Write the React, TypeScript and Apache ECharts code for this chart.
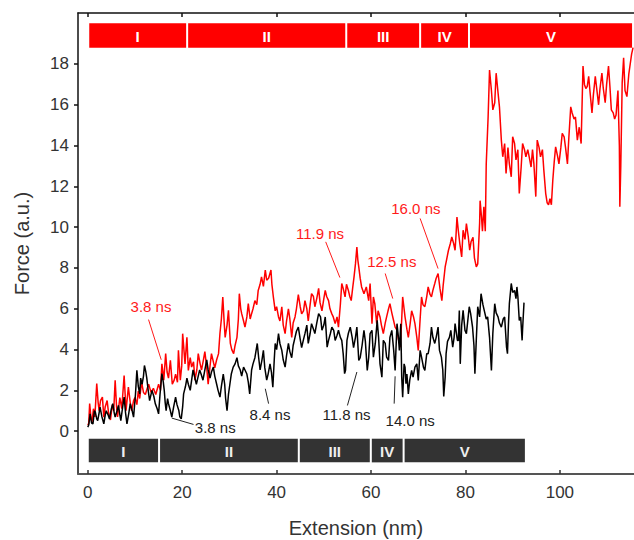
import React, { useEffect, useRef } from "react";
import * as echarts from "echarts";

const xTicks = [0, 20, 40, 60, 80, 100];
const yTicks = [0, 2, 4, 6, 8, 10, 12, 14, 16, 18];

const redTrace: [number, number][] = [
  [0.0,0.3],[0.2,0.38],[0.4,1.35],[0.7,0.6],[0.9,0.45],[1.2,1.1],[1.5,0.7],[1.9,2.33],[2.2,1.4],[2.4,1.0],[2.7,1.5],[3.1,1.67],[3.4,0.69],[3.7,1.2],[4.1,1.5],[4.4,0.9],[4.8,0.55],[5.2,1.3],[5.5,1.0],[5.8,2.49],[6.1,1.2],[6.3,0.7],[6.8,1.65],[7.2,1.1],[7.7,2.73],[8.1,1.0],[8.6,2.16],[9.0,1.4],[9.3,1.0],[9.7,1.5],[10.0,1.65],[10.4,1.3],[10.7,1.97],[11.0,1.6],[11.4,2.4],[11.8,1.9],[12.2,1.8],[12.6,2.1],[12.9,2.3],[13.4,1.9],[13.9,2.1],[14.4,1.8],[15.0,2.3],[15.4,2.0],[15.7,3.3],[16.1,2.5],[16.5,3.8],[16.8,2.9],[17.1,2.6],[17.5,3.47],[17.9,2.3],[18.3,2.5],[18.6,2.8],[19.0,2.4],[19.2,3.96],[19.6,2.5],[19.9,3.2],[20.1,4.78],[20.6,3.3],[21.0,4.6],[21.3,2.98],[21.7,3.6],[22.0,3.14],[22.4,3.4],[22.7,2.5],[23.1,3.0],[23.4,3.8],[23.8,3.3],[24.1,3.0],[24.5,3.5],[24.8,3.9],[25.2,3.1],[25.5,2.3],[25.9,3.2],[26.2,3.8],[26.6,3.4],[26.9,3.1],[27.3,3.5],[27.7,3.8],[28.0,4.8],[28.3,5.5],[28.6,6.58],[28.9,5.3],[29.1,4.6],[29.5,5.2],[29.8,5.93],[30.2,4.3],[30.5,4.0],[30.9,3.8],[31.2,4.2],[31.6,4.6],[31.9,5.5],[32.1,6.74],[32.4,6.0],[32.6,5.76],[33.0,5.4],[33.3,5.1],[33.7,5.6],[34.0,6.25],[34.4,5.5],[34.7,5.76],[35.0,6.0],[35.4,6.4],[35.8,6.2],[36.1,6.9],[36.5,7.2],[36.8,7.56],[37.2,7.1],[37.6,7.9],[37.9,7.4],[38.3,7.5],[38.8,7.9],[39.0,7.2],[39.3,6.6],[39.7,5.9],[40.0,6.1],[40.4,5.6],[40.7,5.4],[41.1,6.1],[41.4,5.2],[41.8,4.78],[42.1,5.4],[42.5,6.0],[42.8,5.5],[43.2,4.6],[43.5,5.3],[43.9,5.6],[44.2,6.0],[44.6,6.7],[45.0,6.1],[45.3,5.75],[45.7,5.9],[46.0,6.4],[46.4,6.0],[46.7,5.4],[47.1,6.2],[47.4,6.74],[47.8,6.6],[48.1,6.1],[48.5,6.5],[48.9,7.0],[49.2,6.3],[49.6,5.9],[50.0,6.5],[50.3,6.9],[50.6,6.6],[51.0,6.4],[51.3,6.0],[51.7,5.75],[52.0,5.6],[52.4,5.27],[52.8,5.6],[53.1,5.1],[53.5,6.2],[53.8,7.24],[54.1,7.0],[54.5,6.58],[54.8,7.2],[55.2,6.9],[55.5,6.6],[55.8,6.4],[56.1,7.0],[56.4,7.56],[56.7,8.2],[57.0,9.03],[57.2,8.4],[57.4,8.05],[57.7,7.5],[58.0,7.07],[58.5,6.74],[59.0,7.07],[59.5,6.4],[59.8,7.24],[60.2,5.27],[60.5,6.58],[60.8,6.25],[61.2,5.27],[61.5,5.9],[61.9,5.6],[62.2,5.2],[62.6,4.78],[63.0,5.3],[63.3,5.6],[63.6,5.9],[64.0,6.25],[64.4,5.8],[64.8,5.4],[65.1,5.1],[65.5,4.95],[65.8,4.5],[66.2,4.12],[66.5,5.5],[66.7,6.58],[67.0,6.0],[67.2,5.6],[67.6,5.0],[67.9,4.6],[68.3,5.3],[68.6,5.9],[69.0,5.6],[69.3,5.27],[69.7,4.6],[70.0,3.96],[70.4,5.5],[70.7,6.58],[71.0,6.2],[71.4,6.1],[71.8,6.6],[72.1,7.07],[72.5,6.7],[72.8,6.58],[73.1,6.9],[73.5,7.24],[73.8,7.5],[74.2,7.73],[74.6,7.0],[75.0,6.4],[75.3,7.2],[75.7,8.05],[76.0,8.4],[76.4,8.87],[76.8,9.2],[77.1,9.52],[77.5,9.2],[77.8,8.87],[78.0,9.6],[78.2,10.5],[78.5,9.8],[78.8,9.2],[79.2,8.54],[79.5,9.85],[79.9,9.4],[80.2,10.18],[80.6,9.52],[80.9,8.87],[81.2,9.3],[81.6,9.5],[81.9,8.5],[82.3,8.05],[82.6,8.2],[83.0,10.2],[83.1,11.3],[83.4,10.5],[83.6,9.8],[83.9,11.0],[84.2,9.8],[84.4,13.1],[84.8,15.4],[85.1,17.7],[85.5,16.7],[85.8,15.75],[86.2,16.1],[86.5,17.55],[86.9,16.6],[87.2,15.9],[87.6,14.27],[87.9,13.45],[88.3,14.1],[88.6,12.63],[89.0,13.9],[89.3,13.1],[89.7,12.47],[90.0,14.43],[90.4,14.1],[90.7,13.3],[91.1,13.8],[91.4,11.65],[91.8,12.95],[92.1,14.1],[92.5,13.8],[92.8,13.45],[93.2,13.8],[93.5,13.45],[93.9,12.95],[94.2,13.8],[94.5,13.1],[94.9,11.5],[95.2,14.27],[95.6,13.9],[95.9,13.45],[96.3,13.8],[96.6,12.8],[97.0,11.65],[97.3,11.2],[97.6,11.1],[97.9,11.4],[98.2,11.1],[98.5,12.3],[98.8,13.2],[99.1,13.94],[99.5,13.5],[99.8,13.1],[100.2,13.9],[100.5,14.6],[100.9,14.43],[101.2,13.9],[101.6,13.1],[101.9,14.4],[102.3,15.9],[102.6,15.6],[103.0,15.3],[103.3,15.4],[103.7,14.27],[104.1,14.9],[104.5,14.1],[104.9,17.9],[105.2,17.0],[105.5,16.8],[105.8,16.9],[106.1,17.4],[106.4,16.6],[106.8,15.6],[107.1,16.5],[107.5,17.4],[107.8,16.8],[108.2,16.0],[108.5,16.8],[108.9,17.55],[109.2,16.8],[109.6,16.1],[109.9,17.0],[110.3,17.9],[110.6,16.9],[110.9,15.75],[111.3,15.6],[111.6,15.3],[111.9,15.5],[112.3,16.7],[112.6,14.0],[112.7,11.0],[112.9,13.0],[113.2,17.1],[113.5,18.3],[113.8,16.7],[114.2,16.4],[114.6,17.5],[114.9,18.0],[115.2,18.5],[115.5,18.8]
];

const blackTrace: [number, number][] = [
  [0.0,0.2],[0.2,0.3],[0.5,0.85],[0.8,0.4],[1.1,0.36],[1.4,1.0],[1.6,0.93],[1.9,0.6],[2.1,0.52],[2.4,0.9],[2.6,1.18],[3.0,0.7],[3.4,0.36],[3.7,0.8],[3.9,1.0],[4.3,0.8],[4.6,0.6],[5.0,1.1],[5.3,1.35],[5.6,0.9],[5.8,0.69],[6.2,1.0],[6.5,1.26],[6.8,0.8],[7.0,0.52],[7.4,1.2],[7.7,1.67],[8.0,0.9],[8.3,0.36],[8.7,0.9],[9.0,1.35],[9.4,1.0],[9.7,0.69],[10.1,1.8],[10.4,2.98],[10.7,2.2],[11.0,1.83],[11.2,2.6],[11.5,2.3],[11.8,2.7],[12.0,3.22],[12.3,2.9],[12.5,2.6],[12.8,2.0],[13.1,1.5],[13.4,1.8],[13.6,2.0],[14.0,1.7],[14.3,1.35],[14.7,1.1],[15.0,0.85],[15.3,1.8],[15.7,2.82],[16.0,2.4],[16.2,2.0],[16.4,1.4],[16.6,1.0],[16.9,1.6],[17.1,1.35],[17.5,1.0],[17.8,0.69],[18.2,1.2],[18.6,1.67],[18.9,1.3],[19.3,1.0],[19.5,0.7],[19.8,0.6],[20.1,1.2],[20.3,1.83],[20.7,2.2],[21.0,2.6],[21.3,2.3],[21.7,2.0],[22.0,2.5],[22.3,3.0],[22.6,2.7],[23.0,2.3],[23.3,2.6],[23.7,3.0],[24.0,2.8],[24.4,2.5],[24.8,3.0],[25.2,3.5],[25.5,3.0],[25.9,2.6],[26.2,2.9],[26.6,3.14],[26.9,2.7],[27.3,2.3],[27.6,2.0],[28.0,1.67],[28.3,2.2],[28.7,2.8],[29.0,2.3],[29.2,1.6],[29.5,1.0],[29.8,1.8],[30.1,2.3],[30.4,2.8],[30.8,3.14],[31.2,3.3],[31.6,3.6],[31.9,3.2],[32.3,3.0],[32.6,2.7],[33.0,3.14],[33.3,3.0],[33.7,2.8],[34.0,2.4],[34.3,1.83],[34.7,3.0],[35.0,3.3],[35.4,3.6],[35.9,4.3],[36.2,3.6],[36.5,3.0],[36.9,3.5],[37.2,3.96],[37.5,3.1],[37.9,2.5],[38.2,2.8],[38.6,3.3],[38.9,2.9],[39.2,2.16],[39.5,3.5],[39.7,4.3],[40.0,4.0],[40.4,4.78],[40.7,4.3],[41.1,3.96],[41.4,3.5],[41.8,3.14],[42.1,3.7],[42.5,4.3],[42.8,3.9],[43.2,3.6],[43.5,4.2],[43.9,4.6],[44.2,4.9],[44.6,5.1],[45.0,4.5],[45.3,4.1],[45.7,4.5],[46.0,4.78],[46.4,5.2],[46.7,4.3],[47.1,4.8],[47.4,5.27],[47.9,4.94],[48.1,4.78],[48.5,5.3],[48.9,5.76],[49.3,5.6],[49.6,4.95],[50.0,5.2],[50.3,5.6],[50.7,4.12],[51.0,4.45],[51.4,4.8],[51.7,5.1],[52.1,4.94],[52.4,4.45],[52.8,4.7],[53.1,4.95],[53.5,4.6],[53.8,4.45],[54.1,3.8],[54.4,2.82],[54.6,2.98],[54.9,4.45],[55.2,4.8],[55.6,5.1],[56.0,4.6],[56.3,4.1],[56.7,4.6],[57.0,5.1],[57.4,3.47],[57.7,3.6],[58.1,4.2],[58.5,4.94],[58.8,4.4],[59.2,2.98],[59.5,3.6],[59.8,4.78],[60.2,4.94],[60.5,3.63],[60.9,4.3],[61.3,5.43],[61.6,4.6],[61.9,3.3],[62.3,2.65],[62.6,4.45],[63.0,4.3],[63.3,3.63],[63.7,3.47],[64.0,4.6],[64.4,4.94],[64.8,3.96],[65.1,2.98],[65.5,5.27],[65.8,4.6],[66.0,3.96],[66.3,5.27],[66.5,2.65],[66.7,1.67],[67.0,3.3],[67.2,3.14],[67.4,2.33],[67.6,2.8],[67.9,1.83],[68.2,2.5],[68.6,2.98],[68.9,2.65],[69.3,3.14],[69.7,3.3],[70.0,2.49],[70.4,3.96],[70.7,3.63],[71.1,3.14],[71.4,2.98],[71.8,3.8],[72.1,3.8],[72.5,4.3],[72.8,5.1],[73.1,4.6],[73.5,4.3],[73.8,4.6],[74.2,5.1],[74.5,3.96],[74.9,3.63],[75.2,3.0],[75.4,1.7],[75.7,2.65],[75.9,3.8],[76.2,4.4],[76.6,4.6],[76.9,4.94],[77.3,4.12],[77.6,4.6],[77.8,5.27],[78.0,4.94],[78.3,4.45],[78.5,4.45],[78.7,5.92],[78.9,3.3],[79.2,5.2],[79.5,5.92],[79.9,4.94],[80.2,4.78],[80.5,5.43],[80.8,6.1],[81.1,5.76],[81.5,5.1],[81.8,4.2],[82.0,2.82],[82.3,4.5],[82.6,6.1],[83.0,5.6],[83.3,6.74],[83.7,6.2],[84.0,5.9],[84.4,5.5],[84.7,5.6],[85.1,4.6],[85.5,2.98],[85.8,4.8],[86.2,6.25],[86.5,5.8],[86.9,5.6],[87.2,5.3],[87.6,5.1],[88.0,5.5],[88.3,5.6],[88.7,4.12],[88.9,3.8],[89.1,5.2],[89.3,6.25],[89.7,7.24],[90.0,6.8],[90.4,6.9],[90.7,6.5],[90.9,7.07],[91.1,6.6],[91.4,5.43],[91.7,5.6],[92.0,4.45],[92.1,5.0],[92.4,6.3]
];

// Stage bands: edges along x, and [yBottom, yTop]
const redBandEdges = [0.1, 21.05, 54.75, 70.4, 80.75, 115.5];
const redBandY = [18.8, 20.0];
const blackBandEdges = [0.0, 15.1, 44.7, 59.95, 66.9, 92.8];
const blackBandY = [-1.53, -0.37];
const stageLabels = ["I", "II", "III", "IV", "V"];

// Annotations: [textX, textY, lineX1, lineY1, lineX2, lineY2]
const redNotes: number[][] = [
  [13.4, 6.12, 12.87, 5.47, 15.56, 3.5],
  [49.2, 9.69, 50.4, 9.28, 53.4, 7.53],
  [64.4, 8.3, 63.0, 7.73, 64.6, 6.5],
  [69.5, 10.92, 70.4, 10.43, 74.2, 7.97],
];
const redNoteLabels = ["3.8 ns", "11.9 ns", "12.5 ns", "16.0 ns"];
const blackNotes: number[][] = [
  [27.0, 0.2, 17.8, 0.64, 22.4, 0.33],
  [38.6, 0.82, 37.6, 2.08, 38.3, 1.35],
  [54.8, 0.82, 57.0, 2.9, 55.0, 1.26],
  [68.3, 0.53, 65.1, 2.69, 64.9, 1.35],
];
const blackNoteLabels = ["3.8 ns", "8.4 ns", "11.8 ns", "14.0 ns"];

const FONT = '"Liberation Sans", Arial, Helvetica, sans-serif';

function bandRows(edges: number[], ys: number[]) {
  const rows: number[][] = [];
  for (let i = 0; i < edges.length - 1; i++) rows.push([edges[i], edges[i + 1], ys[0], ys[1]]);
  return rows;
}

function bandSeries(edges: number[], ys: number[], fill: string, textFill: string) {
  return {
    type: "custom",
    xAxisIndex: 0,
    yAxisIndex: 0,
    silent: true,
    z: 5,
    data: bandRows(edges, ys),
    renderItem: (params: any, api: any) => {
      const p0 = api.coord([api.value(0), api.value(3)]);
      const p1 = api.coord([api.value(1), api.value(2)]);
      return {
        type: "group",
        children: [
          {
            type: "rect",
            shape: { x: p0[0] + 1, y: p0[1], width: p1[0] - p0[0] - 2, height: p1[1] - p0[1] },
            style: { fill },
          },
          {
            type: "text",
            style: {
              text: stageLabels[params.dataIndex],
              x: (p0[0] + p1[0]) / 2,
              y: (p0[1] + p1[1]) / 2 + 1,
              align: "center",
              verticalAlign: "middle",
              fill: textFill,
              font: `bold 15px ${FONT}`,
            },
          },
        ],
      };
    },
  };
}

function noteSeries(rows: number[][], labels: string[], color: string, textColor: string) {
  return {
    type: "custom",
    xAxisIndex: 0,
    yAxisIndex: 0,
    silent: true,
    z: 6,
    data: rows,
    renderItem: (params: any, api: any) => {
      const t = api.coord([api.value(0), api.value(1)]);
      const a = api.coord([api.value(2), api.value(3)]);
      const b = api.coord([api.value(4), api.value(5)]);
      return {
        type: "group",
        children: [
          {
            type: "line",
            shape: { x1: a[0], y1: a[1], x2: b[0], y2: b[1] },
            style: { stroke: color, lineWidth: 1 },
          },
          {
            type: "text",
            style: {
              text: labels[params.dataIndex],
              x: t[0],
              y: t[1],
              align: "center",
              verticalAlign: "middle",
              fill: textColor,
              font: `15px ${FONT}`,
            },
          },
        ],
      };
    },
  };
}

export default function App() {
  const ref = useRef<HTMLDivElement>(null);
  useEffect(() => {
    if (!ref.current) return;
    const chart = echarts.init(ref.current, null, { renderer: "svg" });
    const option: any = {
      animation: false,
      backgroundColor: "#ffffff",
      textStyle: { fontFamily: FONT },
      grid: { left: 78, right: 0, top: 13, bottom: 66, containLabel: false, outerBoundsMode: "none" },
      xAxis: [
        {
          type: "value",
          position: "bottom",
          min: -2.07,
          max: 115.7,
          name: "Extension (nm)",
          nameLocation: "middle",
          nameGap: 44,
          nameTextStyle: { fontSize: 20, color: "#333", fontFamily: FONT },
          axisLine: { show: true, onZero: false, lineStyle: { color: "#555", width: 2 } },
          axisTick: { show: true, inside: true, length: 4, customValues: xTicks, lineStyle: { color: "#333", width: 1.5 } },
          axisLabel: { show: true, customValues: xTicks, fontSize: 17, color: "#333", margin: 10, fontFamily: FONT },
          splitLine: { show: false },
        },
        {
          type: "value",
          position: "top",
          min: -2.07,
          max: 115.7,
          axisLine: { show: true, onZero: false, lineStyle: { color: "#111", width: 1.5 } },
          axisTick: { show: true, inside: true, length: 4, customValues: xTicks, lineStyle: { color: "#111", width: 1.5 } },
          axisLabel: { show: false },
          splitLine: { show: false },
        },
      ],
      yAxis: [
        {
          type: "value",
          min: -2.1,
          max: 20.5,
          name: "Force (a.u.)",
          nameLocation: "middle",
          nameGap: 46,
          nameTextStyle: { fontSize: 20, color: "#333", fontFamily: FONT },
          axisLine: { show: true, onZero: false, lineStyle: { color: "#111", width: 1.5 } },
          axisTick: { show: true, inside: false, length: 4, customValues: yTicks, lineStyle: { color: "#111", width: 1.5 } },
          axisLabel: { show: true, customValues: yTicks, fontSize: 17, color: "#333", margin: 9, fontFamily: FONT },
          splitLine: { show: false },
        },
      ],
      series: [
        {
          type: "line",
          xAxisIndex: 0,
          yAxisIndex: 0,
          data: redTrace,
          showSymbol: false,
          symbol: "none",
          lineStyle: { color: "#ff0000", width: 1.5 },
          z: 2,
        },
        {
          type: "line",
          xAxisIndex: 0,
          yAxisIndex: 0,
          data: blackTrace,
          showSymbol: false,
          symbol: "none",
          lineStyle: { color: "#000000", width: 1.5 },
          z: 3,
        },
        bandSeries(redBandEdges, redBandY, "#ff0000", "#ffffff"),
        bandSeries(blackBandEdges, blackBandY, "#333333", "#eeeeee"),
        noteSeries(redNotes, redNoteLabels, "#ff1a1a", "#ff1a1a"),
        noteSeries(blackNotes, blackNoteLabels, "#222222", "#222222"),
      ],
    };
    chart.setOption(option);
    return () => chart.dispose();
  }, []);
  return <div ref={ref} style={{ position: "absolute", left: 0, top: 0, width: 634, height: 540 }} />;
}
